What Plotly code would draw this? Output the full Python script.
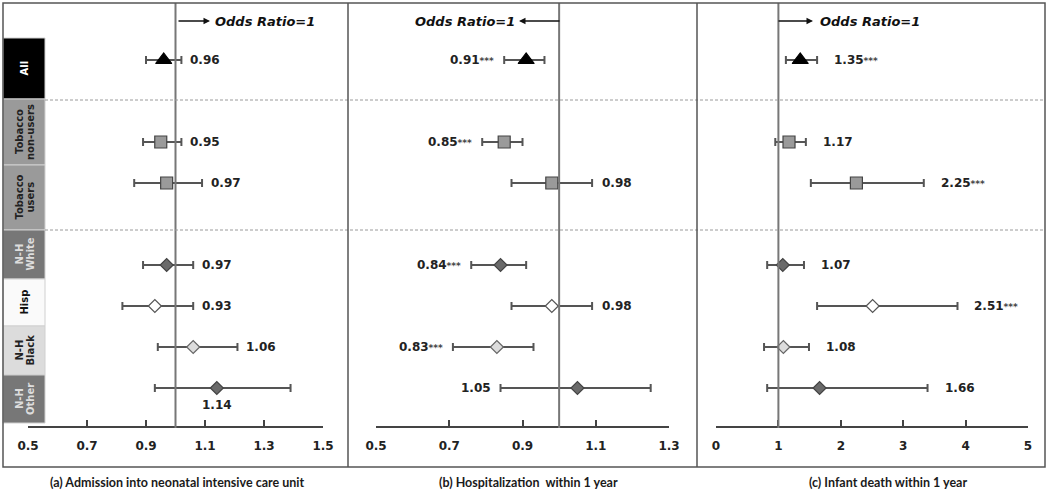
import plotly.graph_objects as go

# ---------------- data ----------------
rows = [["All"], ["Tobacco", "non-users"], ["Tobacco", "users"], ["N-H", "White"],
        ["Hisp"], ["N-H", "Black"], ["N-H", "Other"]]
row_group = [0, 1, 1, 2, 2, 2, 2]

nicu_or = [0.96, 0.95, 0.97, 0.97, 0.93, 1.06, 1.14]
nicu_lo = [0.90, 0.89, 0.86, 0.89, 0.82, 0.94, 0.93]
nicu_hi = [1.02, 1.02, 1.09, 1.06, 1.06, 1.21, 1.39]
nicu_sig = [False, False, False, False, False, False, False]

hosp_or = [0.91, 0.85, 0.98, 0.84, 0.98, 0.83, 1.05]
hosp_lo = [0.85, 0.79, 0.87, 0.76, 0.87, 0.71, 0.84]
hosp_hi = [0.96, 0.90, 1.09, 0.91, 1.09, 0.93, 1.25]
hosp_sig = [True, True, False, True, False, True, False]

death_or = [1.35, 1.17, 2.25, 1.07, 2.51, 1.08, 1.66]
death_lo = [1.12, 0.95, 1.52, 0.82, 1.62, 0.77, 0.82]
death_hi = [1.62, 1.44, 3.33, 1.41, 3.87, 1.49, 3.39]
death_sig = [True, False, True, False, True, False, False]

captions = ["(a) Admission into neonatal intensive care unit",
            "(b) Hospitalization  within 1 year",
            "(c) Infant death within 1 year"]
ticks_a = [0.5, 0.7, 0.9, 1.1, 1.3, 1.5]
ticks_b = [0.5, 0.7, 0.9, 1.1, 1.3]
ticks_c = [0, 1, 2, 3, 4, 5]

# ---------------- layout helpers ----------------
W, H = 1050, 491
def px(x):
    return x / W
def py(y):
    return 1 - y / H

# row index with gaps between groups
ypos = []
idx = 0
for i, g in enumerate(row_group):
    if i > 0 and g != row_group[i - 1]:
        idx += 1
    ypos.append(idx)
    idx += 1
ROW0, PITCH = 60, 41  # pixel of first row, pixel per index

symbols = ["triangle-up", "square", "square", "diamond", "diamond", "diamond", "diamond"]
fills = ["#000000", "#9a9a9a", "#9a9a9a", "#6a6a6a", "#ffffff", "#dcdcdc", "#6a6a6a"]
sizes = [14, 12, 12, 10, 10, 10, 10]
lines = ["#000000", "#444444", "#444444", "#444444", "#555555", "#666666", "#444444"]

panels = [
    dict(ax="x", ore=nicu_or, lo=nicu_lo, hi=nicu_hi, sig=nicu_sig,
         side=["r", "r", "r", "r", "r", "r", "b"], gap=7,
         dom=(28, 323), rng=(0.5, 1.5), ticks=ticks_a, fmt="{:.1f}"),
    dict(ax="x2", ore=hosp_or, lo=hosp_lo, hi=hosp_hi, sig=hosp_sig,
         side=["l", "l", "r", "l", "r", "l", "l"], gap=8,
         dom=(376, 669), rng=(0.5, 1.3), ticks=ticks_b, fmt="{:.1f}"),
    dict(ax="x3", ore=death_or, lo=death_lo, hi=death_hi, sig=death_sig,
         side=["r"] * 7, gap=15,
         dom=(716, 1028), rng=(0, 5), ticks=ticks_c, fmt="{:d}"),
]

fig = go.Figure()
annotations = []
shapes = []
LBL_FONT = dict(family="DejaVu Sans", size=12, color="#222222")

for p in panels:
    for i in range(len(rows)):
        fig.add_trace(go.Scatter(
            x=[p["ore"][i]], y=[ypos[i]], xaxis=p["ax"], yaxis="y",
            mode="markers", cliponaxis=False,
            marker=dict(symbol=symbols[i], size=sizes[i], color=fills[i],
                        line=dict(color=lines[i], width=1.2)),
            error_x=dict(type="data", symmetric=False,
                         array=[p["hi"][i] - p["ore"][i]],
                         arrayminus=[p["ore"][i] - p["lo"][i]],
                         color="#555555", thickness=2, width=4),
            showlegend=False, hoverinfo="skip"))
        txt = "<b>{:.2f}</b>".format(p["ore"][i])
        if p["sig"][i]:
            txt += "<span style='font-size:9px;color:#444'><b>***</b></span>"
        s = p["side"][i]
        common = dict(y=ypos[i], xref=p["ax"], yref="y", text=txt, showarrow=False,
                      yanchor="middle", font=LBL_FONT)
        if s == "r":
            annotations.append(dict(x=p["hi"][i], xanchor="left", xshift=p["gap"], **common))
        elif s == "l":
            annotations.append(dict(x=p["lo"][i], xanchor="right", xshift=-p["gap"], **common))
        else:
            annotations.append(dict(x=p["ore"][i], xanchor="center", yshift=-17, **common))
    # Odds ratio = 1 line
    shapes.append(dict(type="line", xref=p["ax"], yref="paper", x0=1, x1=1,
                       y0=py(428), y1=py(3), line=dict(color="#777777", width=2)))

# axes
AXIS_Y = 427
for k, p in enumerate(panels):
    name = "xaxis" if k == 0 else "xaxis%d" % (k + 1)
    fig.layout[name] = dict(
        domain=[px(p["dom"][0]), px(p["dom"][1])], range=list(p["rng"]),
        anchor="free", position=py(AXIS_Y), showgrid=False, zeroline=False,
        automargin=False,
        showline=True, linecolor="#444444", linewidth=1.5,
        ticks="inside", ticklen=6, tickwidth=1.5, tickcolor="#444444",
        tickvals=p["ticks"], ticktext=["<b>" + p["fmt"].format(t) + "</b>" for t in p["ticks"]],
        tickfont=dict(family="DejaVu Sans", size=12, color="#222222"),
        ticklabelstandoff=8, fixedrange=True)

fig.update_layout(yaxis=dict(range=[(H - ROW0) / PITCH, -ROW0 / PITCH], visible=False,
                             domain=[0, 1], fixedrange=True, automargin=False))

# "Odds Ratio=1" arrows
ORF = dict(family="DejaVu Sans", size=13, color="#111111")
arrow_specs = [(177, 210, 213, "left"), (561, 519, 517, "right"), (777, 813, 818, "left")]
for tail, head, tx, anc in arrow_specs:
    annotations.append(dict(x=px(head), y=py(21), xref="paper", yref="paper",
                            ax=tail - head, ay=0, text="", showarrow=True,
                            arrowhead=2, arrowsize=1, arrowwidth=1.3, arrowcolor="#111111"))
    annotations.append(dict(x=px(tx), y=py(21), xref="paper", yref="paper",
                            text="<b><i>Odds Ratio=1</i></b>", showarrow=False,
                            xanchor=anc, yanchor="middle", font=ORF))

# captions
for cx, cap in zip([177, 528, 888], captions):
    annotations.append(dict(x=px(cx), y=py(482), xref="paper", yref="paper", text="<b>" + cap + "</b>",
                            showarrow=False, xanchor="center", yanchor="middle",
                            font=dict(family="Lato", size=12.5, color="#1a1a1a")))

# row label boxes
box_edges = [38, 99, 165, 230, 279, 326, 375, 423]
box_fill = ["#000000", "#9a9a9a", "#9a9a9a", "#777777", "#fafafa", "#dcdcdc", "#777777"]
box_text = ["#ffffff", "#222222", "#222222", "#dddddd", "#111111", "#222222", "#dddddd"]
for i, r in enumerate(rows):
    shapes.append(dict(type="rect", xref="paper", yref="paper",
                       x0=px(3), x1=px(45), y0=py(box_edges[i + 1]), y1=py(box_edges[i]),
                       fillcolor=box_fill[i], line=dict(color="#d0d0d0", width=1), layer="below"))
    cy = py((box_edges[i] + box_edges[i + 1]) / 2)
    xs = [24] if len(r) == 1 else [19, 30]
    for xx, part in zip(xs, r):
        annotations.append(dict(x=px(xx), y=cy, xref="paper", yref="paper",
                                text="<b>" + part + "</b>", textangle=-90, showarrow=False,
                                xanchor="center", yanchor="middle",
                                font=dict(family="DejaVu Sans", size=10, color=box_text[i])))

# dashed separators
for yy in [100, 230]:
    shapes.append(dict(type="line", xref="paper", yref="paper", x0=px(45), x1=px(1045),
                       y0=py(yy), y1=py(yy), line=dict(color="#9a9a9a", width=1, dash="3px,2px")))

# frame
shapes.append(dict(type="rect", xref="paper", yref="paper", x0=px(3), x1=px(1045),
                   y0=py(467), y1=py(3), line=dict(color="#555555", width=1.5)))
for xx in [348, 697]:
    shapes.append(dict(type="line", xref="paper", yref="paper", x0=px(xx), x1=px(xx),
                       y0=py(467), y1=py(3), line=dict(color="#555555", width=1.5)))

fig.update_layout(width=W, height=H,
                  margin=dict(l=0, r=0, t=0, b=0, pad=0, autoexpand=False),
                  paper_bgcolor="white", plot_bgcolor="white",
                  annotations=annotations, shapes=shapes)

fig.write_html("out.html", config={"displayModeBar": False},
               post_script="document.body.style.margin='0px';document.body.style.overflow='hidden';")
